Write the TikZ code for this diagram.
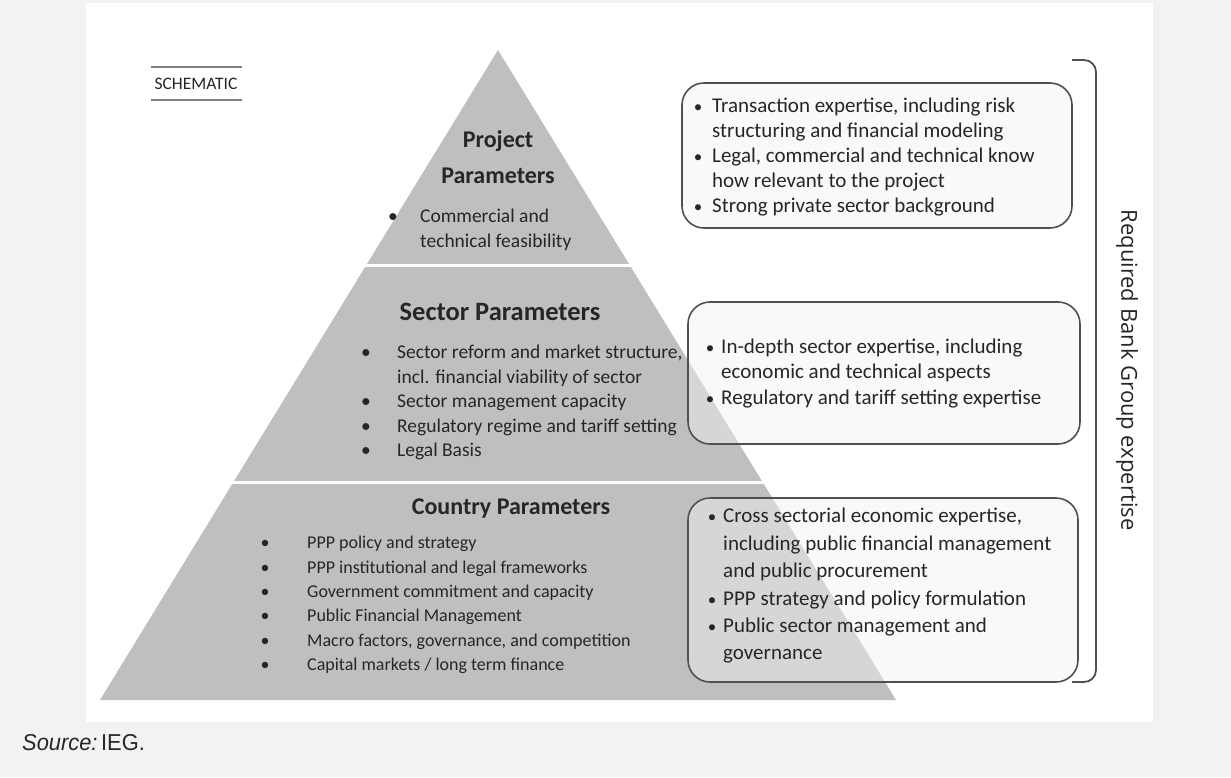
\documentclass[tikz,border=0pt]{standalone}
\usepackage{fontspec}
\setmainfont{Carlito}
\newfontfamily\sidefont{Open Sans}
\newfontfamily\srcfont{Liberation Sans}
\usetikzlibrary{positioning}
\definecolor{pagegray}{HTML}{F2F2F2}
\definecolor{pyrgray}{HTML}{BFBFBF}
\definecolor{inkgray}{HTML}{262626}
\definecolor{framegray}{HTML}{505050}
\definecolor{rulegray}{HTML}{808080}
\begin{document}
\begin{tikzpicture}[x=1pt,y=-1pt,
	line/.style={anchor=base west,inner sep=0pt,text=inkgray,font=\fontsize{19.5}{22}\selectfont},
	dot/.style={anchor=base,inner sep=0pt,text=inkgray,font=\fontsize{19.5}{22}\selectfont},
	smline/.style={line,font=\fontsize{18}{22}\selectfont},
	smdot/.style={dot,font=\fontsize{18}{22}\selectfont},
	boxline/.style={line,font=\fontsize{21}{24}\selectfont},
	boxdot/.style={dot,font=\fontsize{17}{24}\selectfont},
	head/.style={inner sep=0pt,text=inkgray,font=\fontsize{24}{28}\selectfont\bfseries},
	bighead/.style={head,font=\fontsize{26.5}{30}\selectfont\bfseries},
	expbox/.style={draw=framegray,line width=1.6pt,rounded corners=22pt,fill=gray!10,fill opacity=0.45,inner sep=0pt},
	rule/.style={draw=rulegray,line width=1.3pt}]
	% page and panel
	\fill[pagegray] (0,0) rectangle (1231,777);
	\fill[white] (86,3) rectangle (1153,722);
	% pyramid
	\coordinate (apex) at (498,50);
	\coordinate (baseL) at (100,700);
	\coordinate (baseR) at (896,700);
	\fill[pyrgray] (apex) -- (baseR) -- (baseL) -- cycle;
	\draw[white,line width=3pt] (300,265) -- (700,265);
	\draw[white,line width=3pt] (150,482) -- (850,482);
	% schematic tag
	\node[text=inkgray,font=\fontsize{17.5}{20}\selectfont] (schem) at (196,84) {SCHEMATIC};
	\draw[rule] (151,67) -- (242,67);
	\draw[rule] (151,100) -- (242,100);
	% project level
	\node[head] (projhead1) at (498,141) {Project};
	\node[head] (projhead2) at (498,176) {Parameters};
	\node[dot] (pdot1) at (393,222) {•};
	\node[line] (pline1) at (420,222) {Commercial and};
	\node[line] (pline2) at (420,247) {technical feasibility};
	% sector level
	\node[bighead] (sechead) at (500,312) {Sector Parameters};
	\node[dot] (sdot1) at (366,358) {•};
	\node[dot] (sdot2) at (366,407) {•};
	\node[dot] (sdot3) at (366,432) {•};
	\node[dot] (sdot4) at (366,456) {•};
	\node[line] (sline1) at (397,358) {Sector reform and market structure,};
	\node[line] (sline2) at (397,383) {incl. financial viability of sector};
	\node[line] (sline3) at (397,407) {Sector management capacity};
	\node[line] (sline4) at (397,432) {Regulatory regime and tariff setting};
	\node[line] (sline5) at (397,456) {Legal Basis};
	% country level
	\node[head] (cnthead) at (511,509) {Country Parameters};
	\node[smdot] (cdot1) at (265,548) {•};
	\node[smdot] (cdot2) at (265,573) {•};
	\node[smdot] (cdot3) at (265,597) {•};
	\node[smdot] (cdot4) at (265,621) {•};
	\node[smdot] (cdot5) at (265,646) {•};
	\node[smdot] (cdot6) at (265,670) {•};
	\node[smline] (cline1) at (307,548) {PPP policy and strategy};
	\node[smline] (cline2) at (307,573) {PPP institutional and legal frameworks};
	\node[smline] (cline3) at (307,597) {Government commitment and capacity};
	\node[smline] (cline4) at (307,621) {Public Financial Management};
	\node[smline] (cline5) at (307,646) {Macro factors, governance, and competition};
	\node[smline] (cline6) at (307,670) {Capital markets / long term finance};
	% expertise boxes
	\node[expbox,minimum width=390pt,minimum height=145pt] (projbox) at (877,155.5) {};
	\node[expbox,minimum width=392pt,minimum height=142pt] (secbox) at (884,373) {};
	\node[expbox,minimum width=390pt,minimum height=184pt] (cntbox) at (883,590) {};
	\node[boxdot] (pxdot1) at (698,112) {•};
	\node[boxdot] (pxdot2) at (698,162) {•};
	\node[boxdot] (pxdot3) at (698,212) {•};
	\node[boxline] (pxline1) at (712,112) {Transaction expertise, including risk};
	\node[boxline] (pxline2) at (712,137) {structuring and financial modeling};
	\node[boxline] (pxline3) at (712,162) {Legal, commercial and technical know};
	\node[boxline] (pxline4) at (712,187) {how relevant to the project};
	\node[boxline] (pxline5) at (712,212) {Strong private sector background};
	\node[boxdot] (sxdot1) at (710,353) {•};
	\node[boxdot] (sxdot2) at (710,404) {•};
	\node[boxline] (sxline1) at (721,353) {In-depth sector expertise, including};
	\node[boxline] (sxline2) at (721,378) {economic and technical aspects};
	\node[boxline] (sxline3) at (721,404) {Regulatory and tariff setting expertise};
	\node[boxdot] (cxdot1) at (712,522) {•};
	\node[boxdot] (cxdot2) at (712,605) {•};
	\node[boxdot] (cxdot3) at (712,632) {•};
	\node[boxline] (cxline1) at (723,522) {Cross sectorial economic expertise,};
	\node[boxline] (cxline2) at (723,550) {including public financial management};
	\node[boxline] (cxline3) at (723,577) {and public procurement};
	\node[boxline] (cxline4) at (723,605) {PPP strategy and policy formulation};
	\node[boxline] (cxline5) at (723,632) {Public sector management and};
	\node[boxline] (cxline6) at (723,659) {governance};
	% bracket
	\coordinate (brtop) at (1072,60);
	\coordinate (brbot) at (1072,682);
	\draw[framegray,line width=1.8pt,rounded corners=12pt] (brtop) -- (1096,60) -- (1096,682) -- (brbot);
	\node[rotate=-90,text=inkgray,font=\sidefont\fontsize{22}{26}\selectfont] (expert) at (1127,370) {Required Bank Group expertise};
	% source
	\node[anchor=base west,inner sep=0pt,text=inkgray,font=\srcfont\fontsize{23}{26}\selectfont] (src) at (22,750) {\scalebox{0.95}[1]{\textit{Source:}\,IEG.}};
\end{tikzpicture}
\end{document}
